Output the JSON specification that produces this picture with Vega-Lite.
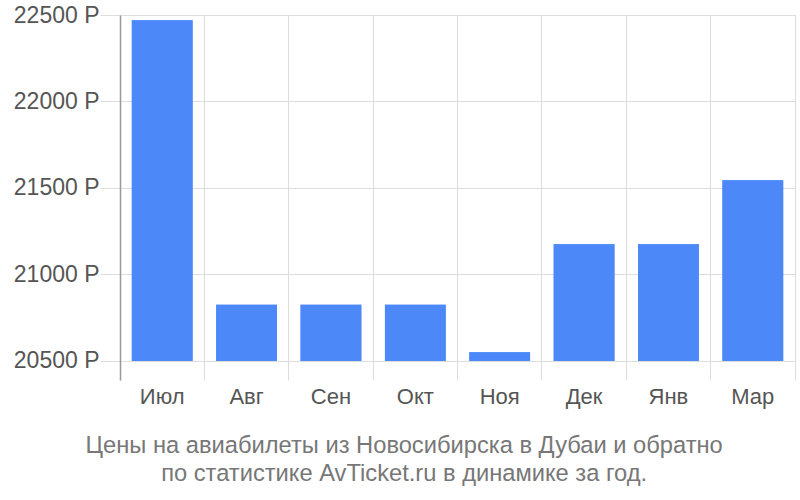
{
  "$schema": "https://vega.github.io/schema/vega-lite/v6.json",
  "width": 675,
  "height": 365,
  "autosize": {"type": "none"},
  "padding": {"left": 120, "top": 15, "right": 5, "bottom": 120},
  "background": "white",
  "config": {
    "font": "Liberation Sans",
    "view": {"stroke": null}
  },
  "title": {
    "text": ["Цены на авиабилеты из Новосибирска в Дубаи и обратно", "по статистике AvTicket.ru в динамике за год."],
    "orient": "bottom",
    "anchor": "middle",
    "frame": "bounds",
    "fontSize": 23.7,
    "fontWeight": "normal",
    "color": "#777777",
    "lineHeight": 28,
    "offset": 27,
    "font": "Liberation Sans"
  },
  "data": {
    "values": [
      {"month": "Июл", "price": 22470},
      {"month": "Авг", "price": 20825},
      {"month": "Сен", "price": 20825},
      {"month": "Окт", "price": 20825},
      {"month": "Ноя", "price": 20550},
      {"month": "Дек", "price": 21175},
      {"month": "Янв", "price": 21175},
      {"month": "Мар", "price": 21545}
    ]
  },
  "encoding": {
    "x": {
      "field": "month",
      "type": "nominal",
      "sort": null,
      "scale": {"paddingInner": 0, "paddingOuter": 0},
      "axis": {
        "title": null,
        "domain": false,
        "ticks": false,
        "grid": true,
        "gridColor": "#dddddd",
        "bandPosition": 0,
        "labelAngle": 0,
        "labelFontSize": 22,
        "labelColor": "#555555",
        "labelPadding": 6,
        "labelFont": "Liberation Sans"
      }
    },
    "y": {
      "field": "price",
      "type": "quantitative",
      "scale": {"domain": [20390, 22500], "zero": false, "nice": false}
    },
    "y2": {"datum": 20500}
  },
  "layer": [
    {
      "mark": {"type": "bar", "color": "#4d88f9", "width": {"band": 0.72}},
      "encoding": {
        "y": {
          "field": "price",
          "type": "quantitative",
          "scale": {"domain": [20390, 22500], "zero": false, "nice": false},
          "axis": {
            "title": null,
            "values": [20500, 21000, 21500, 22000, 22500],
            "labelExpr": "datum.value + ' Р'",
            "domain": true,
            "domainColor": "#999999",
            "domainWidth": 1.5,
            "grid": true,
            "gridColor": "#dddddd",
            "ticks": true,
            "tickColor": "#dddddd",
            "tickSize": 20,
            "labelPadding": 1,
            "labelFontSize": 23,
            "labelColor": "#555555",
            "labelFont": "Liberation Sans"
          }
        }
      }
    },
    {
      "mark": {"type": "bar", "color": "#4d88f9", "width": {"band": 0.72}},
      "encoding": {
        "y": {
          "field": "price",
          "type": "quantitative",
          "scale": {"domain": [20390, 22500], "zero": false, "nice": false},
          "axis": {
            "orient": "right",
            "title": null,
            "labels": false,
            "ticks": false,
            "grid": false,
            "domain": true,
            "domainColor": "#dddddd"
          }
        }
      }
    }
  ],
  "resolve": {"axis": {"y": "independent"}}
}
